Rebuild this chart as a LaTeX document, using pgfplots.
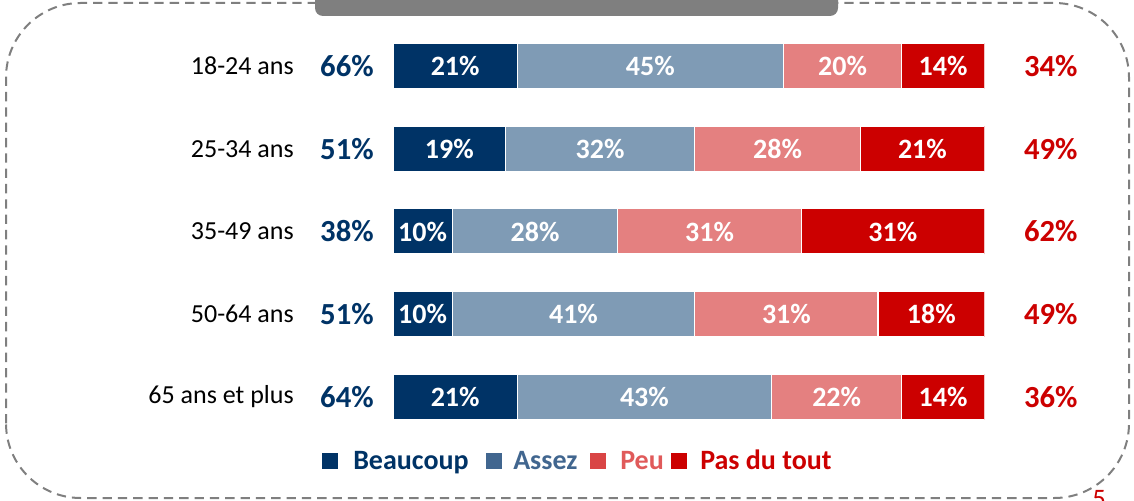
\documentclass[border=0pt]{standalone}
\usepackage{pgfplots}
\pgfplotsset{compat=1.18}
\usepackage{pgfplotstable}
\usepackage{fontspec}
\setmainfont{Carlito}
\definecolor{cBeau}{HTML}{003366}
\definecolor{cAssez}{HTML}{7F9BB5}
\definecolor{cPeu}{HTML}{E48080}
\definecolor{cPas}{HTML}{CC0000}
\definecolor{lAssez}{HTML}{41668F}
\definecolor{lPeu}{HTML}{D94545}
\definecolor{tPeu}{HTML}{E05A5A}
\definecolor{frame}{HTML}{7F7F7F}

\pgfplotstableread[col sep=comma]{
cat,lab,a,b,c,d
0,18-24 ans,21,45,20,14
1,25-34 ans,19,32,28,21
2,35-49 ans,10,28,31,31
3,50-64 ans,10,41,31,18
4,65 ans et plus,21,43,22,14
}\data

\pgfplotsset{
  common/.style={at={(294.8pt,356.55pt)}, anchor=north west, scale only axis,
    width=443.6pt, height=310.3pt, xmin=0, xmax=100, ymin=-0.5, ymax=4.5,
    y dir=reverse, hide axis, /pgf/number format/assume math mode=true},
  seglab/.style={draw=none, point meta=explicit,
    nodes near coords={\pgfmathprintnumber[assume math mode=true]{\pgfplotspointmeta}\%},
    every node near coord/.append style={anchor=center, text=white,
      font=\bfseries\fontsize{21}{21}\selectfont}},
}

\begin{document}
\begin{tikzpicture}[x=0.75pt,y=0.75pt]
\useasboundingbox (0,0) rectangle (1134,500);
\clip (0,0) rectangle (1134,500);
\draw[frame, line width=1.5pt, dash pattern=on 7pt off 4.5pt, rounded corners=56pt] (6,2) rectangle (1129,497);
\fill[frame, rounded corners=6pt] (315,530) rectangle (838,484);

\begin{axis}[common, xbar stacked, bar width=34pt]
\addplot[fill=cBeau, draw=white, line width=1pt] table[x=a, y=cat]{\data};
\addplot[fill=cAssez, draw=white, line width=1pt] table[x=b, y=cat]{\data};
\addplot[fill=cPeu, draw=white, line width=1pt] table[x=c, y=cat]{\data};
\addplot[fill=cPas, draw=white, line width=1pt] table[x=d, y=cat]{\data};
\end{axis}

\begin{axis}[common, clip=false]
\addplot[seglab] table[x expr=\thisrow{a}/2, y=cat, meta=a]{\data};
\addplot[seglab] table[x expr=\thisrow{a}+\thisrow{b}/2, y=cat, meta=b]{\data};
\addplot[seglab] table[x expr=\thisrow{a}+\thisrow{b}+\thisrow{c}/2, y=cat, meta=c]{\data};
\addplot[seglab] table[x expr=\thisrow{a}+\thisrow{b}+\thisrow{c}+\thisrow{d}/2, y=cat, meta=d]{\data};
\addplot[seglab, every node near coord/.append style={text=cBeau, font=\bfseries\fontsize{23}{23}\selectfont}]
  table[x expr=-7.8, y=cat, meta expr=\thisrow{a}+\thisrow{b}]{\data};
\addplot[seglab, every node near coord/.append style={text=cPas, font=\bfseries\fontsize{23}{23}\selectfont}]
  table[x expr=111.2, y=cat, meta expr=\thisrow{c}+\thisrow{d}]{\data};
\addplot[draw=none, point meta=explicit symbolic, nodes near coords,
  every node near coord/.append style={anchor=east, text=black, inner xsep=0pt,
    font=\fontsize{19.5}{19.5}\selectfont}]
  table[x expr=-16.75, y=cat, meta=lab]{\data};
\end{axis}

% legend
\fill[cBeau] (322,31) rectangle (338,47);
\node[anchor=base west, inner sep=0pt, text=cBeau, font=\bfseries\fontsize{21}{21}\selectfont] at (353,31) {Beaucoup};
\fill[lAssez] (486,31) rectangle (502,47);
\node[anchor=base west, inner sep=0pt, text=lAssez, font=\bfseries\fontsize{21}{21}\selectfont] at (513,31) {Assez};
\fill[lPeu] (590,31) rectangle (606,47);
\node[anchor=base west, inner sep=0pt, text=tPeu, font=\bfseries\fontsize{21}{21}\selectfont] at (620,31) {Peu};
\fill[cPas] (671,31) rectangle (687,47);
\node[anchor=base west, inner sep=0pt, text=cPas, font=\bfseries\fontsize{21}{21}\selectfont] at (700,31) {Pas du tout};
\node[anchor=north west, inner sep=0pt, text=cPas, font=\fontsize{20}{20}\selectfont] at (1092,10) {5};
\end{tikzpicture}
\end{document}
